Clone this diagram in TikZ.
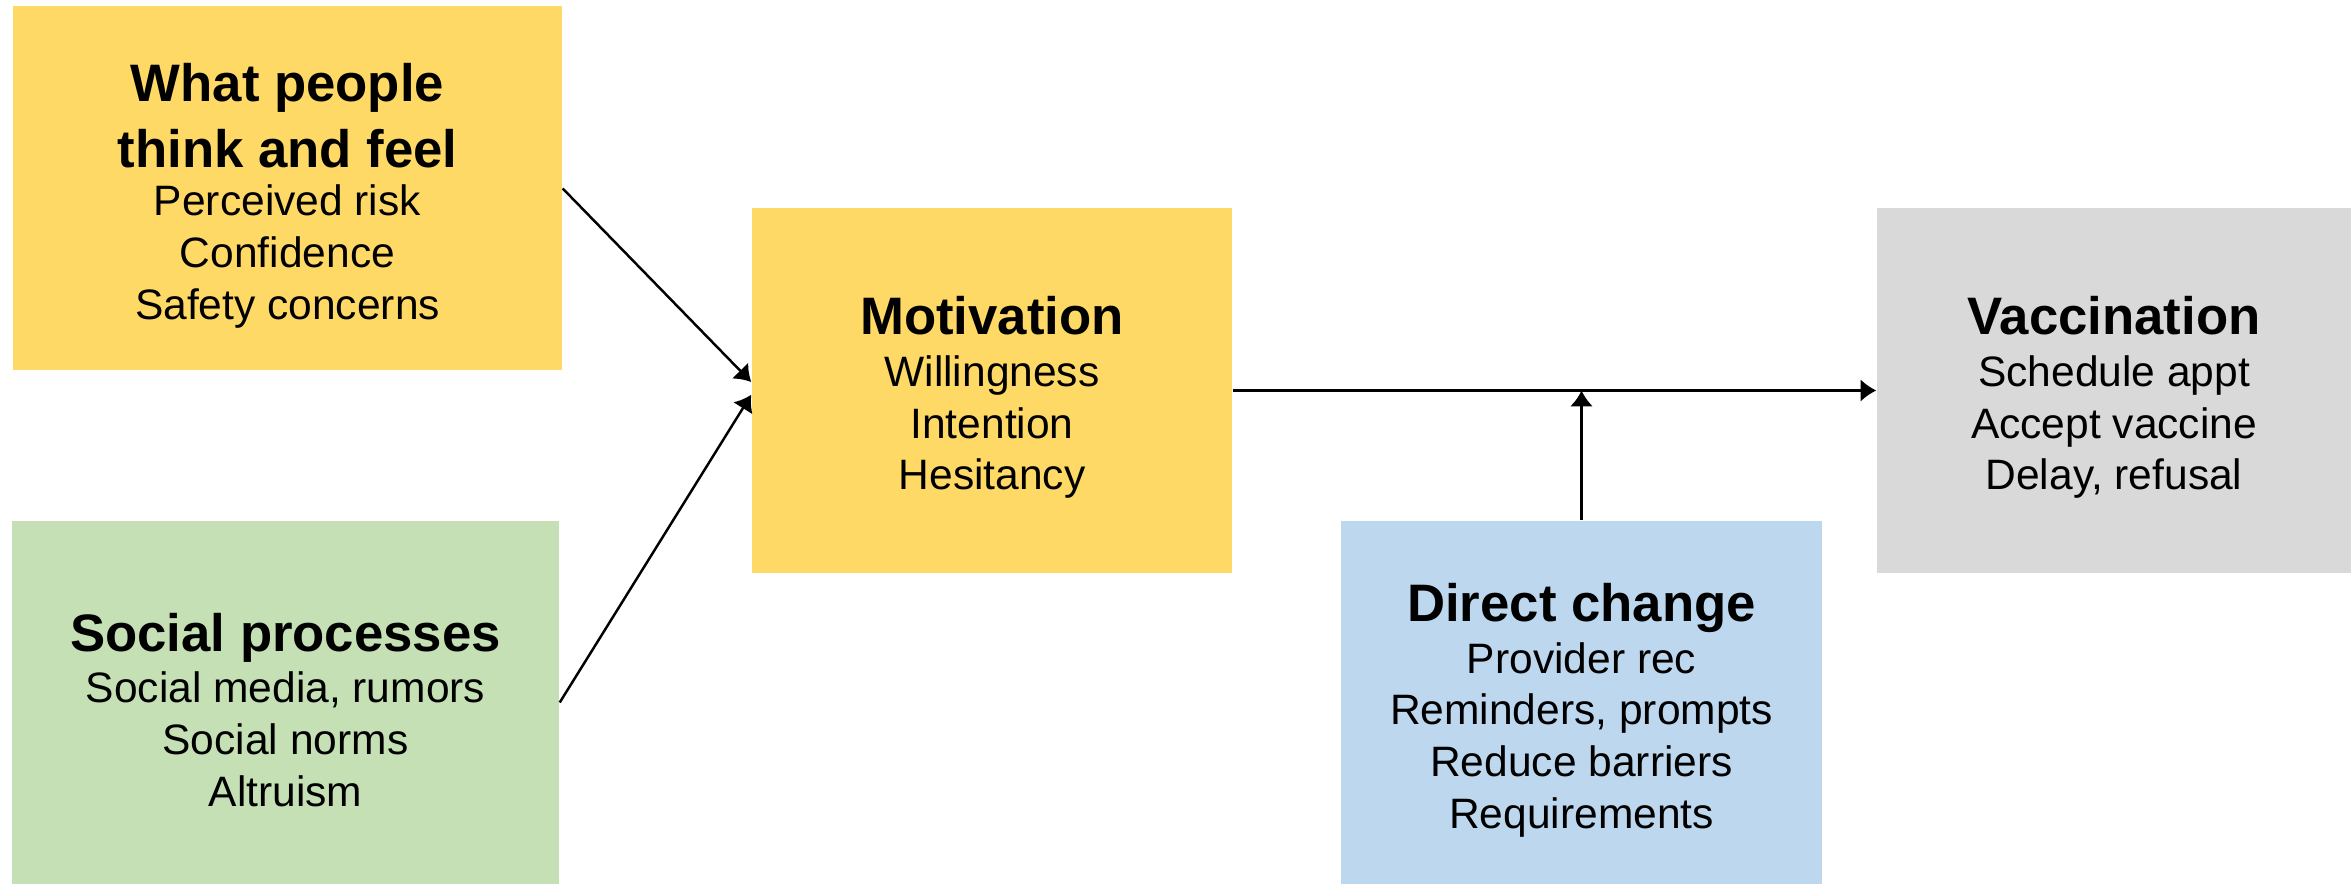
\documentclass[tikz,border=0pt]{standalone}
\usepackage{fontspec}
\setmainfont{Liberation Sans}
\usetikzlibrary{arrows.meta}
\definecolor{boxgold}{HTML}{FFD966}
\definecolor{boxgreen}{HTML}{C5E0B4}
\definecolor{boxblue}{HTML}{BDD7EE}
\definecolor{boxgray}{HTML}{D9D9D9}
\newcommand{\headfont}{\fontsize{15}{18}\selectfont\bfseries}
% first title line, a little taller so the text sits lower in its box
\newcommand{\boxhead}[1]{\rule{0pt}{15pt}{\headfont #1}}
\tikzset{box/.style={inner sep=0pt, align=center, minimum height=3.64cm, font=\fontsize{12.1}{14.7}\selectfont}}

\begin{document}
\begin{tikzpicture}
\useasboundingbox (0,0) rectangle (23.51,-8.84);
\node[box, fill=boxgold, minimum width=5.49cm] (think) at (2.875,-1.885) {\boxhead{What people}\\[4pt] {\headfont think and feel}\\[-1pt] Perceived risk\\ Confidence\\ Safety concerns};
\node[box, fill=boxgreen, minimum width=5.47cm] (social) at (2.855,-7.025) {\boxhead{Social processes}\\ Social media, rumors\\ Social norms\\ Altruism};
\node[box, fill=boxgold, minimum width=4.80cm] (motivation) at (9.92,-3.905) {\boxhead{Motivation}\\ Willingness\\ Intention\\ Hesitancy};
\node[box, fill=boxblue, minimum width=4.81cm] (direct) at (15.815,-7.03) {\boxhead{Direct change}\\ Provider rec\\ Reminders, prompts\\ Reduce barriers\\ Requirements};
\node[box, fill=boxgray, minimum width=4.74cm] (vaccination) at (21.14,-3.905) {\boxhead{Vaccination}\\ Schedule appt\\ Accept vaccine\\ Delay, refusal};

\coordinate (join) at (direct.north |- motivation.east);

\path[draw,line width=0.7pt,->,>={Latex[length=4.5pt,width=6.5pt]}] (think.east) -- (motivation.178.7);
\path[draw,line width=0.7pt,->,>={Latex[length=4.5pt,width=6.5pt]}] (social.east) -- (motivation.181.8);
\path[draw,line width=0.7pt,->,>={Latex[length=4.5pt,width=6.5pt]}] (motivation.east) -- (vaccination.west);
\path[draw,line width=0.7pt,->,>={Latex[length=4.5pt,width=6.5pt]}] (direct.north) -- (join);
\end{tikzpicture}
\end{document}
